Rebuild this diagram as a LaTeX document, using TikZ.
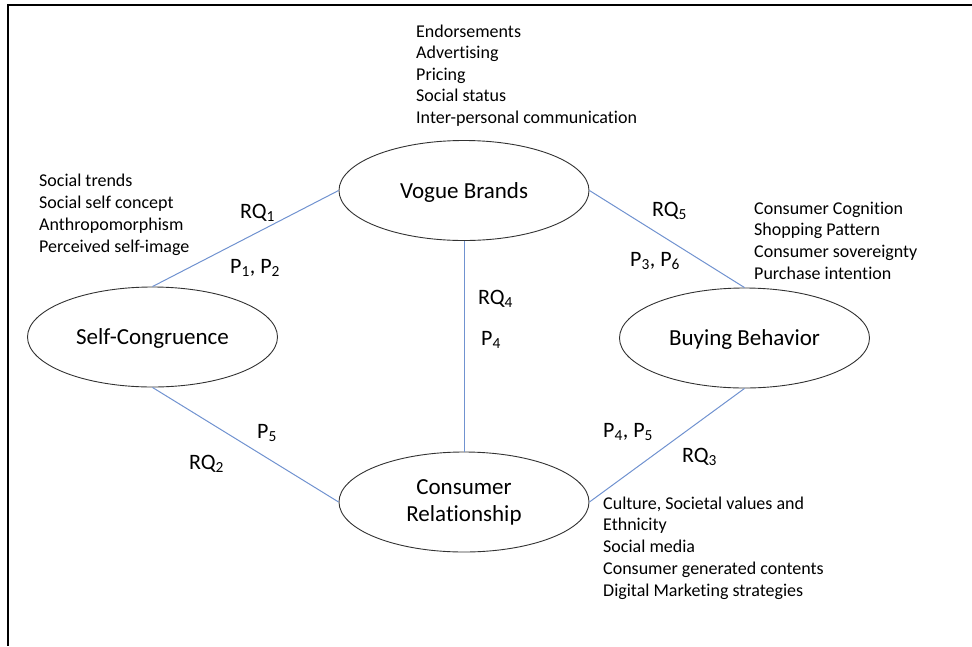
\documentclass[tikz,border=0pt]{standalone}
\usepackage{fontspec}
\setmainfont{Carlito}[Ligatures=NoCommon]
\usetikzlibrary{shapes.geometric}
\definecolor{linkblue}{RGB}{112,146,208}
\definecolor{outline}{RGB}{50,50,50}
\begin{document}
\begin{tikzpicture}[x=1pt,y=-1pt,
  concept/.style={ellipse, draw=outline, line width=0.9pt, minimum width=250pt, minimum height=100pt, inner sep=0pt, font=\fontsize{23}{27}\selectfont, text height=15pt, text depth=0pt},
  link/.style={draw=linkblue, line width=1pt},
  item/.style={anchor=base west, inner sep=0pt, font=\fontsize{18}{21.6}\selectfont},
  rq/.style={anchor=base west, inner sep=0pt, font=\fontsize{22}{26}\selectfont}]
\useasboundingbox (0,0) rectangle (972,646);
\draw[line width=2pt] (972,5) -- (8,5) -- (8,646);

\node[concept] (vogue) at (464,190.5) {Vogue Brands};
\node[concept] (sc) at (152.5,337) {Self-Congruence};
\node[concept] (bb) at (744.5,338) {Buying Behavior};
\node[concept, align=center, text height={}, text depth={}] (cr) at (464,502) {Consumer\\Relationship};

\draw[link] (sc.north) -- (vogue.west);
\draw[link] (vogue.east) -- (bb.north);
\draw[link] (vogue.south) -- (cr.north);
\draw[link] (sc.south) -- (cr.west);
\draw[link] (bb.south) -- (cr.east);

\node[rq] (rq1) at (240,218) {RQ\textsubscript{1}};
\node[rq] (p12) at (230,273) {P\textsubscript{1}, P\textsubscript{2}};
\node[rq] (rq5) at (652,216) {RQ\textsubscript{5}};
\node[rq] (p36) at (630,266) {P\textsubscript{3}, P\textsubscript{6}};
\node[rq] (rq4) at (478,304) {RQ\textsubscript{4}};
\node[rq] (p4) at (481,345) {P\textsubscript{4}};
\node[rq] (p5) at (257,438) {P\textsubscript{5}};
\node[rq] (rq2) at (189,469) {RQ\textsubscript{2}};
\node[rq] (p45) at (603,437) {P\textsubscript{4}, P\textsubscript{5}};
\node[rq] (rq3) at (682,462) {RQ\textsubscript{3}};

\foreach \t [count=\i from 0] in {Endorsements, Advertising, Pricing, Social status, Inter-personal communication}
  \node[item] (vb\i) at (416, 37+21.6*\i) {\t};
\foreach \t [count=\i from 0] in {Social trends, Social self concept, Anthropomorphism, Perceived self-image}
  \node[item] (sc\i) at (39, 186+22*\i) {\t};
\foreach \t [count=\i from 0] in {Consumer Cognition, Shopping Pattern, Consumer sovereignty, Purchase intention}
  \node[item] (bb\i) at (754, 214+21.8*\i) {\t};
\foreach \t [count=\i from 0] in {{Culture, Societal values and}, Ethnicity, Social media, Consumer generated contents, Digital Marketing strategies}
  \node[item] (cr\i) at (603, 509+21.8*\i) {\t};
\end{tikzpicture}
\end{document}
